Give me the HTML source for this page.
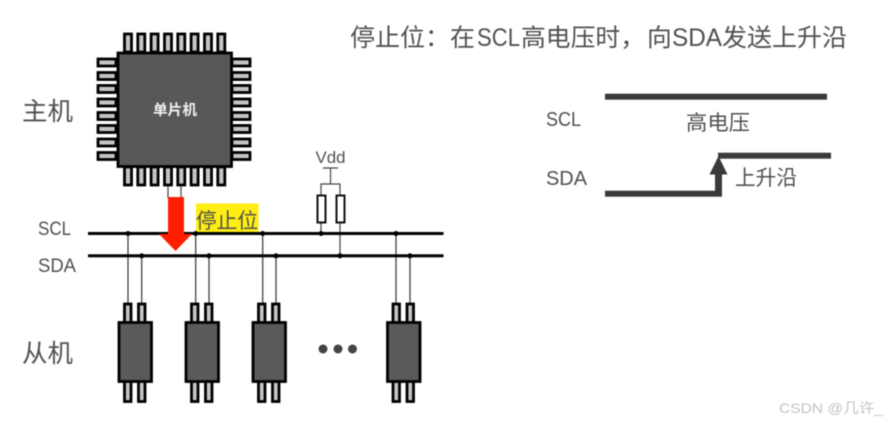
<!DOCTYPE html>
<html><head><meta charset="utf-8">
<style>
html,body{margin:0;padding:0;background:#fff;width:887px;height:423px;overflow:hidden}
svg{display:block;filter:blur(0.4px)}
text{font-family:"Liberation Sans","Noto Sans CJK SC",sans-serif;fill:#505050}
</style></head><body>
<svg width="887" height="423" viewBox="0 0 887 423" xmlns="http://www.w3.org/2000/svg">
<defs>
<rect id="pv" x="-3.5" y="0" width="7" height="18" fill="#c4c4c4" stroke="#000" stroke-width="2.8"/>
<rect id="ph" x="0" y="-3.5" width="18" height="7" fill="#c4c4c4" stroke="#000" stroke-width="2.8"/>
<g id="slave">
<rect x="-10.5" y="304" width="6.5" height="19" fill="#c4c4c4" stroke="#000" stroke-width="2.8"/>
<rect x="3.5" y="304" width="6.5" height="19" fill="#c4c4c4" stroke="#000" stroke-width="2.8"/>
<rect x="-10.5" y="381" width="6.5" height="20.5" fill="#c4c4c4" stroke="#000" stroke-width="2.8"/>
<rect x="3.5" y="381" width="6.5" height="20.5" fill="#c4c4c4" stroke="#000" stroke-width="2.8"/>
<rect x="-16" y="322.5" width="32.5" height="59" fill="#5a5a5a" stroke="#000" stroke-width="2.8"/>
</g>
</defs>

<!-- chip pins -->
<g>
<use href="#pv" x="128" y="34"/><use href="#pv" x="141.3" y="34"/><use href="#pv" x="154.6" y="34"/><use href="#pv" x="168" y="34"/><use href="#pv" x="181.3" y="34"/><use href="#pv" x="194.6" y="34"/><use href="#pv" x="208" y="34"/><use href="#pv" x="221.3" y="34"/>
<use href="#pv" x="128" y="167"/><use href="#pv" x="141.3" y="167"/><use href="#pv" x="154.6" y="167"/><use href="#pv" x="168" y="167"/><use href="#pv" x="181.3" y="167"/><use href="#pv" x="194.6" y="167"/><use href="#pv" x="208" y="167"/><use href="#pv" x="221.3" y="167"/>
<use href="#ph" x="98" y="62.5"/><use href="#ph" x="98" y="76"/><use href="#ph" x="98" y="89"/><use href="#ph" x="98" y="102.5"/><use href="#ph" x="98" y="116"/><use href="#ph" x="98" y="129"/><use href="#ph" x="98" y="142.5"/><use href="#ph" x="98" y="156"/>
<use href="#ph" x="232" y="62.5"/><use href="#ph" x="232" y="76"/><use href="#ph" x="232" y="89"/><use href="#ph" x="232" y="102.5"/><use href="#ph" x="232" y="116"/><use href="#ph" x="232" y="129"/><use href="#ph" x="232" y="142.5"/><use href="#ph" x="232" y="156"/>
</g>
<rect x="118" y="53" width="113.5" height="113.5" fill="#585858" stroke="#000" stroke-width="2.8"/>
<text x="153" y="115" font-size="14.5" font-weight="700" style="fill:#f2f2f2" textLength="44" lengthAdjust="spacingAndGlyphs">单片机</text>

<!-- chip leads -->
<path d="M168 186V198M181 186V198" stroke="#444" stroke-width="1.2" fill="none"/>

<!-- highlight -->
<rect x="196" y="203.5" width="62.5" height="28.5" fill="#ffee11"/>

<!-- vertical wires -->
<path d="M128 234V304M141.7 256V304M195.7 234V304M209 256V304M262.7 234V304M276 256V304M396 234V304M410 256V304" stroke="#333" stroke-width="1.2" fill="none"/>

<!-- Vdd network -->
<path d="M323 168H338M330.5 168V184M321 195V184H340V195M321 223V234M340 223V256" stroke="#444" stroke-width="1.2" fill="none"/>
<rect x="317.5" y="195.5" width="8" height="27" fill="#fff" stroke="#111" stroke-width="2"/>
<rect x="336.5" y="195.5" width="8" height="27" fill="#fff" stroke="#111" stroke-width="2"/>

<!-- buses -->
<rect x="88" y="232" width="355.5" height="3" fill="#000"/>
<rect x="88" y="254.3" width="355.5" height="3" fill="#000"/>
<g fill="#000">
<circle cx="128" cy="233.5" r="2.5"/><circle cx="195.7" cy="233.5" r="2.5"/><circle cx="262.7" cy="233.5" r="2.5"/><circle cx="321" cy="233.5" r="2.5"/><circle cx="396" cy="233.5" r="2.5"/>
<circle cx="141.7" cy="255.8" r="2.5"/><circle cx="209" cy="255.8" r="2.5"/><circle cx="276" cy="255.8" r="2.5"/><circle cx="340" cy="255.8" r="2.5"/><circle cx="410" cy="255.8" r="2.5"/>
</g>

<!-- red arrow -->
<polygon points="168,197 184,197 184,234 192,234 175.5,251 159,234 168,234" fill="#ff1e00"/>

<!-- slaves -->
<use href="#slave" x="135"/>
<use href="#slave" x="202"/>
<use href="#slave" x="269"/>
<use href="#slave" x="403.5"/>
<g fill="#444"><circle cx="323" cy="349" r="4.5"/><circle cx="338" cy="349" r="4.5"/><circle cx="352.5" cy="349" r="4.5"/></g>

<!-- left labels -->
<text x="22" y="120" font-size="25" textLength="51" lengthAdjust="spacingAndGlyphs">主机</text>
<text x="22" y="362" font-size="25" textLength="51" lengthAdjust="spacingAndGlyphs">从机</text>
<text x="38" y="235" font-size="19.5" textLength="33" lengthAdjust="spacingAndGlyphs">SCL</text>
<text x="38" y="272" font-size="19" textLength="38" lengthAdjust="spacingAndGlyphs">SDA</text>
<text x="196" y="228" font-size="21" textLength="62" lengthAdjust="spacingAndGlyphs">停止位</text>
<text x="315.5" y="163" font-size="16.5" textLength="30" lengthAdjust="spacingAndGlyphs">Vdd</text>

<!-- title -->
<text x="350" y="46" font-size="24.7" textLength="125" lengthAdjust="spacingAndGlyphs">停止位：在</text>
<text x="477" y="46" font-size="25" textLength="43" lengthAdjust="spacingAndGlyphs">SCL</text>
<text x="521" y="46" font-size="24.7" textLength="124" lengthAdjust="spacingAndGlyphs">高电压时，</text>
<text x="647" y="46" font-size="24.7" textLength="24.7" lengthAdjust="spacingAndGlyphs">向</text>
<text x="672" y="46" font-size="25" textLength="50" lengthAdjust="spacingAndGlyphs">SDA</text>
<text x="722" y="46" font-size="24.7" textLength="125" lengthAdjust="spacingAndGlyphs">发送上升沿</text>

<!-- timing diagram -->
<rect x="605" y="93.7" width="222" height="6" fill="#3a3a3a"/>
<rect x="605" y="190.7" width="117" height="6" fill="#3a3a3a"/>
<rect x="718" y="152.7" width="113" height="6" fill="#3a3a3a"/>
<rect x="715" y="172" width="7" height="24" fill="#3a3a3a"/>
<polygon points="718.5,156 727.5,174.5 709.5,174.5" fill="#3a3a3a"/>
<text x="546" y="126" font-size="20.5" textLength="35" lengthAdjust="spacingAndGlyphs">SCL</text>
<text x="546" y="185" font-size="20.5" textLength="41" lengthAdjust="spacingAndGlyphs">SDA</text>
<text x="686" y="130" font-size="21" textLength="64" lengthAdjust="spacingAndGlyphs">高电压</text>
<text x="735" y="185" font-size="21" textLength="62" lengthAdjust="spacingAndGlyphs">上升沿</text>

<!-- watermark -->
<text x="779" y="413" font-size="14" style="fill:#c2c2c2" textLength="104" lengthAdjust="spacingAndGlyphs">CSDN @几许_</text>
</svg>
</body></html>
